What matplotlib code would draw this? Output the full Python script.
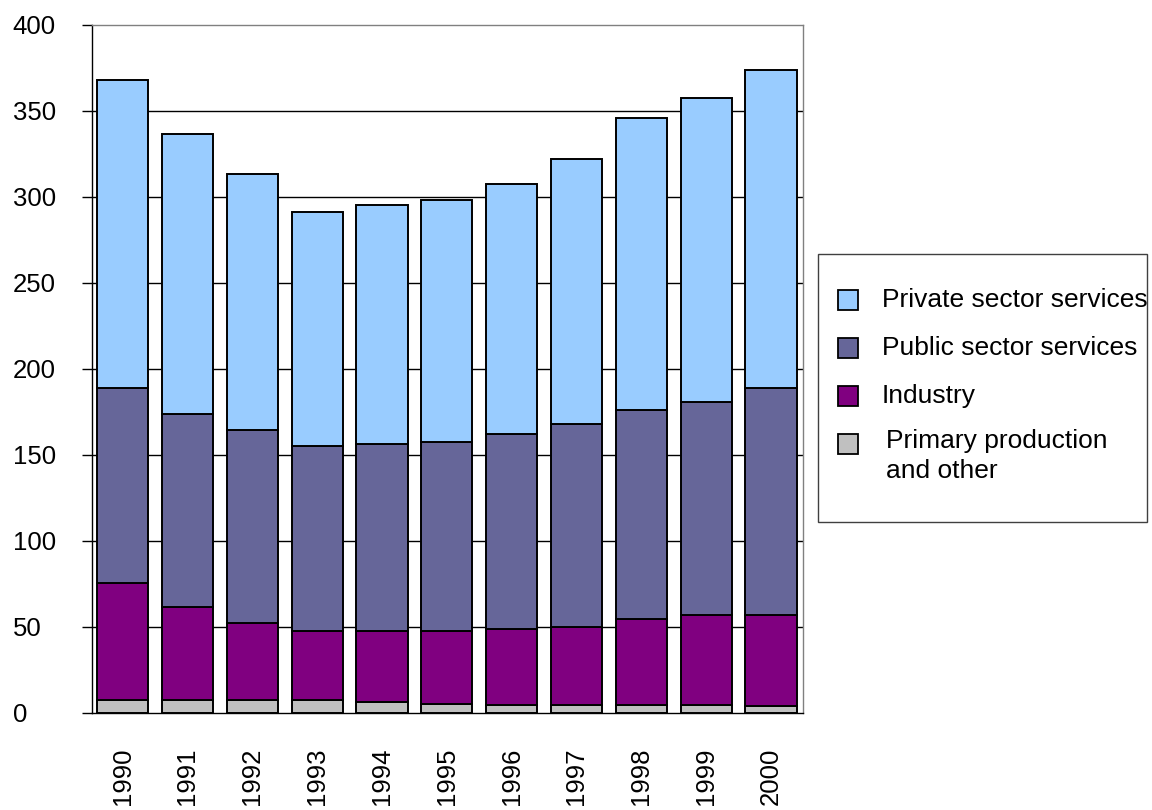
import matplotlib
matplotlib.use('Agg')
import matplotlib.pyplot as plt
from matplotlib.patches import Rectangle
import numpy as np

plt.rcParams['font.family'] = ['Liberation Sans', 'DejaVu Sans']

years = ['1990', '1991', '1992', '1993', '1994', '1995',
         '1996', '1997', '1998', '1999', '2000']
# stacked values
primary = [7, 7, 7, 7, 6, 5, 4.5, 4.5, 4.5, 4.5, 3.5]
industry = [68.5, 54.5, 45.3, 40.6, 41.6, 42.6, 44, 45.5, 50, 52.2, 53.2]
public = [113, 112.2, 111.7, 107.1, 108.3, 109.8, 113.6, 117.7, 121.4, 123.8, 131.8]
private = [179.5, 162.8, 149.3, 136.3, 138.9, 140.7, 145.3, 153.9, 170, 177, 185.1]

names = ['Private sector services', 'Public sector services', 'Industry',
         'Primary production\nand other']
colors = ['#99CCFF', '#666699', '#800080', '#C0C0C0']

fig = plt.figure(figsize=(11.52, 8.10), dpi=100)
ax = fig.add_axes([92 / 1152, 1 - 712.5 / 810, 711 / 1152, 688 / 810])

x = np.arange(len(years))
stack = [primary, industry, public, private]
cols = [colors[3], colors[2], colors[1], colors[0]]
bottom = np.zeros(len(years))
for vals, c in zip(stack, cols):
    ax.bar(x, vals, 0.79, bottom=bottom, color=c, edgecolor='black',
           linewidth=1.4, zorder=3)
    bottom += np.array(vals)

ax.set_xlim(-0.472, 10.494)
ax.set_ylim(0, 400)
ax.set_yticks(range(0, 401, 50))
for yv in range(50, 400, 50):
    ax.axhline(yv, color='black', linewidth=1, zorder=1)

ax.spines['top'].set_color('#808080')
ax.spines['right'].set_color('#808080')
ax.spines['left'].set_color('black')
ax.spines['bottom'].set_color('black')
for s in ax.spines.values():
    s.set_linewidth(1)

ax.set_xticks(x)
ax.set_xticklabels(years, rotation=90, fontsize=18.5)
ax.tick_params(axis='x', length=0, pad=25)
ax.tick_params(axis='y', length=7, width=1, direction='out', pad=50, labelsize=18.5)
for lab in ax.get_yticklabels():
    lab.set_horizontalalignment('left')

# legend box drawn in figure pixels
W, H = 1152, 810
fig.add_artist(Rectangle((818 / W, 1 - 522 / H), 329 / W, 268 / H,
                         transform=fig.transFigure, facecolor='white',
                         edgecolor='#404040', linewidth=1))
rows = [300, 348, 396, 444]
for name, c, yc in zip(names, colors, rows):
    fig.add_artist(Rectangle((838 / W, 1 - (yc + 10) / H), 20 / W, 20 / H,
                             transform=fig.transFigure, facecolor=c,
                             edgecolor='black', linewidth=1.3))
    if '\n' in name:
        fig.text(886 / W, 1 - (yc - 15) / H, name, fontsize=19, va='top',
                 ha='left', linespacing=1.3)
    else:
        fig.text(882 / W, 1 - yc / H, name, fontsize=19, va='center', ha='left')

fig.savefig('out.png', dpi=100)
